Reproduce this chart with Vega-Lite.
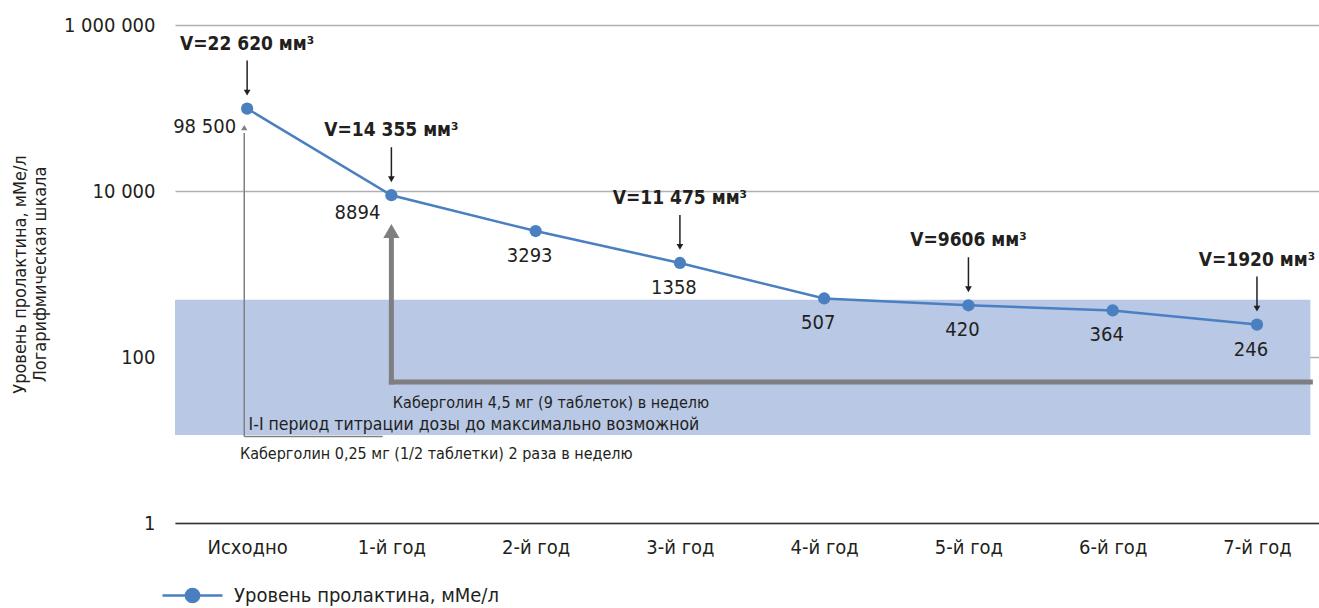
{
  "$schema": "https://vega.github.io/schema/vega-lite/v6.json",
  "width": 1144,
  "height": 498,
  "autosize": {"type": "none"},
  "padding": {"left": 175, "top": 25, "right": 0, "bottom": 85},
  "config": {
    "font": "Liberation Sans Narrow, DejaVu Sans Condensed, Roboto Condensed, Arial Narrow, sans-serif",
    "view": {"stroke": null},
    "text": {"color": "#231f20"}
  },
  "datasets": {
    "main": [
      {"t": 0, "period": "Исходно", "value": 98500, "lbl": "98 500", "v": "V=22 620 мм³"},
      {"t": 1, "period": "1-й год", "value": 8894, "lbl": "8894", "v": "V=14 355 мм³"},
      {"t": 2, "period": "2-й год", "value": 3293, "lbl": "3293", "v": null},
      {"t": 3, "period": "3-й год", "value": 1358, "lbl": "1358", "v": "V=11 475 мм³"},
      {"t": 4, "period": "4-й год", "value": 507, "lbl": "507", "v": null},
      {"t": 5, "period": "5-й год", "value": 420, "lbl": "420", "v": "V=9606 мм³"},
      {"t": 6, "period": "6-й год", "value": 364, "lbl": "364", "v": null},
      {"t": 7, "period": "7-й год", "value": 246, "lbl": "246", "v": "V=1920 мм³"}
    ],
    "band": [{"x": -0.5, "x2": 7.37, "lo": 11.5, "hi": 490}],
    "thick": [
      {"x": 1, "x2": 1, "y": 50, "y2": 2600},
      {"x": 1, "x2": 7.37, "y": 50, "y2": 50}
    ],
    "thickHead": [{"x": 1, "y": 3300}],
    "thin": [
      {"x": -0.02, "x2": -0.02, "y": 11, "y2": 50000},
      {"x": -0.02, "x2": 0.94, "y": 11, "y2": 11}
    ],
    "thinHead": [{"x": -0.02, "y": 58000}],
    "notes": [
      {"x": 1.01, "y": 28, "txt": "Каберголин 4,5 мг (9 таблеток) в неделю", "kind": "a"},
      {"x": 0.01, "y": 15, "txt": "I-I период титрации дозы до максимально возможной", "kind": "b"},
      {"x": -0.05, "y": 6.7, "txt": "Каберголин 0,25 мг (1/2 таблетки) 2 раза в неделю", "kind": "a"}
    ]
  },
  "layer": [
    {
      "data": {"name": "band"},
      "mark": {"type": "rect", "color": "#b8c8e5"},
      "encoding": {
        "x": {"field": "x", "type": "quantitative", "scale": {"domain": [-0.5, 7.43], "nice": false, "zero": false},
          "axis": {"values": [0, 1, 2, 3, 4, 5, 6, 7], "labelExpr": "['Исходно','1-й год','2-й год','3-й год','4-й год','5-й год','6-й год','7-й год'][datum.value]",
            "title": null, "grid": false, "ticks": false, "domain": true, "domainColor": "#333333", "domainWidth": 1.5,
            "labelFontSize": 20, "labelColor": "#231f20", "labelPadding": 14, "labelFlush": false}},
        "x2": {"field": "x2"},
        "y": {"field": "lo", "type": "quantitative", "scale": {"type": "log", "domain": [1, 1000000], "nice": false},
          "axis": {"values": [1, 100, 10000, 1000000],
            "labelExpr": "datum.value == 1000000 ? '1 000 000' : datum.value == 10000 ? '10 000' : datum.value == 100 ? '100' : '1'",
            "title": ["Уровень пролактина, мМе/л", "Логарифмическая шкала"], "titleFontSize": 18, "titleFontWeight": "normal", "titleColor": "#231f20", "titlePadding": 14,
            "grid": true, "gridColor": "#b0b0b0", "gridWidth": 1.5, "ticks": false, "domain": false,
            "labelFontSize": 20, "labelColor": "#231f20", "labelPadding": 20}},
        "y2": {"field": "hi"}
      }
    },
    {
      "data": {"name": "thin"},
      "mark": {"type": "rule", "color": "#808080", "strokeWidth": 1.5},
      "encoding": {
        "x": {"field": "x", "type": "quantitative"}, "x2": {"field": "x2"},
        "y": {"field": "y", "type": "quantitative"}, "y2": {"field": "y2"}
      }
    },
    {
      "data": {"name": "thinHead"},
      "mark": {"type": "point", "shape": "triangle-up", "filled": true, "color": "#808080", "size": 40, "opacity": 1},
      "encoding": {"x": {"field": "x", "type": "quantitative"}, "y": {"field": "y", "type": "quantitative"}}
    },
    {
      "data": {"name": "thick"},
      "mark": {"type": "rule", "color": "#7f7f82", "strokeWidth": 5, "strokeCap": "square"},
      "encoding": {
        "x": {"field": "x", "type": "quantitative"}, "x2": {"field": "x2"},
        "y": {"field": "y", "type": "quantitative"}, "y2": {"field": "y2"}
      }
    },
    {
      "data": {"name": "thickHead"},
      "mark": {"type": "point", "shape": "triangle-up", "filled": true, "color": "#7f7f82", "size": 260, "opacity": 1},
      "encoding": {"x": {"field": "x", "type": "quantitative"}, "y": {"field": "y", "type": "quantitative"}}
    },
    {
      "data": {"name": "notes"},
      "transform": [{"filter": "datum.kind == 'a'"}],
      "mark": {"type": "text", "align": "left", "baseline": "middle", "fontSize": 16},
      "encoding": {"x": {"field": "x", "type": "quantitative"}, "y": {"field": "y", "type": "quantitative"}, "text": {"field": "txt"}}
    },
    {
      "data": {"name": "notes"},
      "transform": [{"filter": "datum.kind == 'b'"}],
      "mark": {"type": "text", "align": "left", "baseline": "middle", "fontSize": 17.5},
      "encoding": {"x": {"field": "x", "type": "quantitative"}, "y": {"field": "y", "type": "quantitative"}, "text": {"field": "txt"}}
    },
    {
      "data": {"name": "main"},
      "mark": {"type": "line", "strokeWidth": 2.5},
      "encoding": {
        "x": {"field": "t", "type": "quantitative"},
        "y": {"field": "value", "type": "quantitative"},
        "color": {"datum": "Уровень пролактина, мМе/л", "type": "nominal", "scale": {"range": ["#4a7fc1"]},
          "legend": {"orient": "none", "legendX": -14, "legendY": 539, "title": null,
            "symbolType": "M-1,0L1,0M-0.22,0A0.22,0.22,0,1,1,0.22,0A0.22,0.22,0,1,1,-0.22,0",
            "symbolSize": 3600, "symbolStrokeWidth": 2.5, "symbolFillColor": "#4a7fc1",
            "labelFontSize": 20, "labelColor": "#231f20", "labelOffset": 10, "labelLimit": 0}}
      }
    },
    {
      "data": {"name": "main"},
      "mark": {"type": "point", "filled": true, "color": "#4a7fc1", "size": 150, "opacity": 1},
      "encoding": {"x": {"field": "t", "type": "quantitative"}, "y": {"field": "value", "type": "quantitative"}}
    },
    {
      "data": {"name": "main"},
      "transform": [{"filter": "datum.t <= 1"}],
      "mark": {"type": "text", "align": "right", "baseline": "middle", "dx": -11, "dy": 18, "fontSize": 20},
      "encoding": {"x": {"field": "t", "type": "quantitative"}, "y": {"field": "value", "type": "quantitative"}, "text": {"field": "lbl"}}
    },
    {
      "data": {"name": "main"},
      "transform": [{"filter": "datum.t >= 2"}],
      "mark": {"type": "text", "align": "center", "baseline": "middle", "dx": -6, "dy": 25, "fontSize": 20},
      "encoding": {"x": {"field": "t", "type": "quantitative"}, "y": {"field": "value", "type": "quantitative"}, "text": {"field": "lbl"}}
    },
    {
      "data": {"name": "main"},
      "transform": [{"filter": "datum.v != null"}],
      "mark": {"type": "text", "align": "center", "baseline": "middle", "dy": -65, "fontSize": 19, "fontWeight": "bold"},
      "encoding": {"x": {"field": "t", "type": "quantitative"}, "y": {"field": "value", "type": "quantitative"}, "text": {"field": "v"}}
    },
    {
      "data": {"name": "main"},
      "transform": [{"filter": "datum.v != null"}],
      "mark": {"type": "rule", "color": "#231f20", "strokeWidth": 1.5, "yOffset": -48, "y2Offset": -18},
      "encoding": {"x": {"field": "t", "type": "quantitative"}, "y": {"field": "value", "type": "quantitative"}, "y2": {"field": "value"}}
    },
    {
      "data": {"name": "main"},
      "transform": [{"filter": "datum.v != null"}],
      "mark": {"type": "point", "shape": "triangle-down", "filled": true, "color": "#231f20", "size": 45, "opacity": 1, "yOffset": -16},
      "encoding": {"x": {"field": "t", "type": "quantitative"}, "y": {"field": "value", "type": "quantitative"}}
    }
  ]
}
